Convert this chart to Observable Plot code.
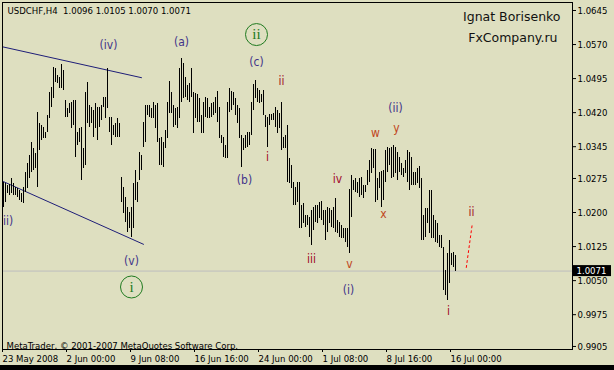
<!DOCTYPE html>
<html><head><meta charset="utf-8">
<script src="https://cdn.jsdelivr.net/npm/d3@7"></script>
<script src="https://cdn.jsdelivr.net/npm/@observablehq/plot@0.6"></script>
<style>
html,body{margin:0;padding:0;background:#000;}
#chart{width:614px;height:365px;overflow:hidden;}
</style></head><body><div id="chart"></div>
<script>
const symbol = "USDCHF,H4";
const lastOpen = 1.0096, lastClose = 1.0071;

const highs = [
1.0266,1.0264,1.0260,1.0262,1.0275,1.0264,1.0255,1.0253,1.0249,1.0242,
1.0255,1.0288,1.0308,1.0326,1.0355,1.0341,1.0330,1.0421,1.0396,1.0392,
1.0388,1.0377,1.0414,1.0465,1.0476,1.0520,1.0517,1.0502,1.0498,1.0526,
1.0513,1.0447,1.0429,1.0440,1.0443,1.0447,1.0447,1.0377,1.0385,1.0388,
1.0341,1.0465,1.0487,1.0436,1.0432,1.0425,1.0440,1.0432,1.0432,1.0436,
1.0454,1.0454,1.0517,1.0410,1.0410,1.0392,1.0396,1.0407,1.0396,1.0277,
1.0255,1.0233,1.0211,1.0200,1.0211,1.0264,1.0293,1.0266,1.0332,1.0326,
1.0399,1.0436,1.0436,1.0436,1.0429,1.0443,1.0436,1.0440,1.0363,1.0365,
1.0354,1.0381,1.0443,1.0489,1.0465,1.0436,1.0429,1.0432,1.0517,1.0539,
1.0528,1.0498,1.0480,1.0484,1.0517,1.0465,1.0462,1.0460,1.0451,1.0414,
1.0443,1.0454,1.0451,1.0432,1.0440,1.0443,1.0454,1.0467,1.0432,1.0370,
1.0365,1.0348,1.0443,1.0473,1.0467,1.0465,1.0451,1.0436,1.0429,1.0370,
1.0363,1.0370,1.0377,1.0377,1.0443,1.0482,1.0491,1.0473,1.0469,1.0460,
1.0469,1.0414,1.0410,1.0416,1.0416,1.0418,1.0432,1.0425,1.0418,1.0443,
1.0365,1.0370,1.0392,1.0319,1.0304,1.0266,1.0255,1.0266,1.0266,1.0216,
1.0220,1.0194,1.0194,1.0189,1.0205,1.0211,1.0216,1.0216,1.0222,1.0225,
1.0205,1.0205,1.0211,1.0209,1.0205,1.0211,1.0231,1.0183,1.0178,1.0172,
1.0165,1.0165,1.0165,1.0251,1.0282,1.0271,1.0275,1.0266,1.0275,1.0277,
1.0260,1.0260,1.0293,1.0315,1.0341,1.0339,1.0339,1.0275,1.0288,1.0291,
1.0293,1.0337,1.0344,1.0341,1.0344,1.0348,1.0344,1.0333,1.0322,1.0308,
1.0297,1.0315,1.0337,1.0333,1.0322,1.0288,1.0288,1.0297,1.0302,1.0275,
1.0194,1.0209,1.0209,1.0249,1.0249,1.0194,1.0183,1.0176,1.0150,1.0150,
1.0123,1.0073,1.0110,1.0139,1.0110,1.0112,1.0105
];
const lows = [
1.0211,1.0222,1.0242,1.0238,1.0242,1.0238,1.0238,1.0234,1.0227,1.0222,
1.0220,1.0244,1.0253,1.0275,1.0288,1.0293,1.0297,1.0255,1.0337,1.0359,
1.0363,1.0363,1.0377,1.0407,1.0432,1.0451,1.0487,1.0484,1.0473,1.0473,
1.0469,1.0410,1.0410,1.0418,1.0385,1.0392,1.0322,1.0348,1.0355,1.0271,
1.0297,1.0304,1.0396,1.0388,1.0396,1.0366,1.0385,1.0359,1.0388,1.0403,
1.0432,1.0407,1.0429,1.0377,1.0348,1.0370,1.0366,1.0366,1.0366,1.0222,
1.0198,1.0178,1.0156,1.0165,1.0145,1.0165,1.0227,1.0222,1.0271,1.0293,
1.0344,1.0355,1.0414,1.0410,1.0407,1.0407,1.0385,1.0355,1.0304,1.0304,
1.0299,1.0341,1.0363,1.0418,1.0418,1.0388,1.0392,1.0385,1.0407,1.0443,
1.0451,1.0454,1.0447,1.0443,1.0454,1.0374,1.0407,1.0399,1.0399,1.0374,
1.0374,1.0410,1.0407,1.0407,1.0410,1.0414,1.0418,1.0399,1.0363,1.0352,
1.0322,1.0319,1.0319,1.0421,1.0425,1.0436,1.0414,1.0396,1.0363,1.0299,
1.0337,1.0341,1.0344,1.0348,1.0370,1.0425,1.0451,1.0443,1.0440,1.0443,
1.0414,1.0388,1.0344,1.0392,1.0403,1.0403,1.0388,1.0374,1.0385,1.0337,
1.0341,1.0341,1.0267,1.0264,1.0253,1.0216,1.0216,1.0222,1.0165,1.0165,
1.0176,1.0167,1.0172,1.0145,1.0128,1.0161,1.0178,1.0176,1.0187,1.0183,
1.0172,1.0139,1.0156,1.0176,1.0167,1.0165,1.0156,1.0154,1.0145,1.0143,
1.0143,1.0134,1.0123,1.0110,1.0189,1.0249,1.0244,1.0242,1.0233,1.0238,
1.0231,1.0244,1.0260,1.0267,1.0286,1.0297,1.0222,1.0227,1.0253,1.0211,
1.0227,1.0267,1.0288,1.0304,1.0275,1.0277,1.0286,1.0271,1.0288,1.0282,
1.0277,1.0286,1.0267,1.0249,1.0260,1.0260,1.0260,1.0264,1.0253,1.0139,
1.0139,1.0145,1.0176,1.0154,1.0143,1.0143,1.0134,1.0132,1.0123,1.0121,
1.0029,1.0018,1.0007,1.0044,1.0084,1.0080,1.0070
];

const yTicks = [1.0645,1.0570,1.0495,1.0420,1.0345,1.0275,1.0200,1.0125,1.0050,0.9975,0.9905];
const xTickBars = [0,32,64,96,128,160,192,224];
const xTickLabels = ["23 May 2008","2 Jun 00:00","9 Jun 08:00","16 Jun 16:00","24 Jun 00:00","1 Jul 08:00","8 Jul 16:00","16 Jul 00:00"];

// wave labels
const waveText   = ["(ii)","(iv)","(v)","(a)","(b)","(c)","(i)","(ii)", "ii","i","iii","iv","ii","i", "v","w","x","y"];
const waveBar    = [1.25,52.5,64,89,120.5,126.5,172.5,196, 139,132,154,167,234,222.5, 173,186,190,196.5];
const wavePrice  = [1.0181,1.0568,1.0093,1.0575,1.0271,1.0531,1.0029,1.0429, 1.0489,1.0322,1.0097,1.0273,1.0201,0.9983, 1.0086,1.0374,1.0196,1.0385];
const waveDegree = ["minor","minor","minor","minor","minor","minor","minor","minor", "minute","minute","minute","minute","minute","minute", "sub","sub","sub","sub"];

const circledText  = ["i","ii"];
const circledBar   = [64,126.5];
const circledPrice = [1.0036,1.0592];

const upperLineBar = [-0.5,69];
const upperLinePrice = [1.0565,1.0497];
const lowerLineBar = [-0.5,70];
const lowerLinePrice = [1.0269,1.0130];
const projBar = [231.4,234.3];
const projPrice = [1.0079,1.0172];

const bars = highs.map((h,i)=>({k:i, high:h, low:lows[i]}));
const waves = waveText.map((t,i)=>({t, k:waveBar[i], p:wavePrice[i], deg:waveDegree[i]}));
const circled = circledText.map((t,i)=>({t, k:circledBar[i], p:circledPrice[i]}));
const pts = (ks,ps)=>ks.map((k,i)=>({k, p:ps[i]}));

const degreeColor = {minor:"#42348A", minute:"#A00A2A", sub:"#C0441A"};
const bg = "#DEDFC0";
const sans = "'DejaVu Sans Condensed','Liberation Sans',sans-serif";
const last = bars[bars.length-1];
const titleText = `${symbol}  ${lastOpen.toFixed(4)} ${last.high.toFixed(4)} ${last.low.toFixed(4)} ${lastClose.toFixed(4)}`;

const xDomain = [-0.5, 284.5];
const yDomain = [0.98983, 1.06626];
const pxPerBar = 2;                              // 570px / 285 bars
const pxPerPrice = 347 / (yDomain[1] - yDomain[0]);
const boxHalf = 5.5 / pxPerPrice;

const waveMarks = Object.keys(degreeColor).map(deg =>
  Plot.text(waves.filter(d=>d.deg===deg), {x:"k", y:"p", text:"t", fill:degreeColor[deg], fontSize:12, fontFamily:sans, clip:true})
);

const chart = Plot.plot({
  width: 614, height: 365,
  marginLeft: 2, marginRight: 42, marginTop: 2, marginBottom: 16,
  style: {background: bg, fontFamily: sans, fontSize: "9px", color: "black", overflow: "visible"},
  x: {domain: xDomain, label: null},
  y: {domain: yDomain, label: null},
  marks: [
    Plot.ruleY([lastClose], {stroke: "#BDBDBD"}),
    Plot.line(pts(upperLineBar, upperLinePrice), {x:"k", y:"p", stroke:"#1E1E78", strokeWidth:1}),
    Plot.line(pts(lowerLineBar, lowerLinePrice), {x:"k", y:"p", stroke:"#1E1E78", strokeWidth:1}),
    Plot.ruleX(bars, {x:"k", y1:"low", y2:"high", stroke:"black", strokeWidth:1, shapeRendering:"crispEdges"}),
    Plot.line(pts(projBar, projPrice), {x:"k", y:"p", stroke:"#FF0000", strokeWidth:1, strokeDasharray:"2,3"}),
    ...waveMarks,
    Plot.dot(circled, {x:"k", y:"p", r:11, stroke:"#1F7A1F", fill:"none", strokeWidth:1}),
    Plot.text(circled, {x:"k", y:"p", text:"t", fill:"#1F7A1F", fontSize:15, fontFamily:"'Liberation Serif','DejaVu Serif',serif"}),
    Plot.text([titleText], {frameAnchor:"top-left", dx:5, dy:5, fontSize:9.5, fill:"black"}),
    Plot.text(["Ignat Borisenko"], {frameAnchor:"top-right", dx:-12, dy:10, fontSize:12.5, fontFamily:"'DejaVu Sans',sans-serif", fill:"#111"}),
    Plot.text(["FxCompany.ru"], {frameAnchor:"top-right", dx:-15, dy:31, fontSize:12.5, fontFamily:"'DejaVu Sans',sans-serif", fill:"#111"}),
    Plot.text(["MetaTrader, \u00A9 2001-2007 MetaQuotes Software Corp."], {frameAnchor:"bottom-left", lineAnchor:"top", dx:4, dy:-7, fontSize:9.5, fill:"black"}),
    Plot.frame({stroke:"black"}),
    Plot.axisY({anchor:"right", ticks: yTicks, tickFormat: d=>d.toFixed(4), tickSize:3, tickPadding:2, fontSize:9.5}),
    Plot.axisX({anchor:"bottom", ticks: xTickBars, tickFormat: d=>xTickLabels[xTickBars.indexOf(d)], tickSize:3, tickPadding:3, textAnchor:"start", dx:-1, fontSize:9.5}),
    // current price marker on the price axis
    Plot.rect([lastClose], {
      x1: xDomain[1] + 1 / pxPerBar, x2: xDomain[1] + 39 / pxPerBar,
      y1: d => d - boxHalf, y2: d => d + boxHalf,
      fill: "black", clip: false
    }),
    Plot.text([lastClose], {x: xDomain[1] + 4 / pxPerBar, y: d => d, text: d => d.toFixed(4), textAnchor: "start", fill: "white", fontSize: 9.5, clip: false})
  ]
});
document.getElementById("chart").appendChild(chart);
</script></body></html>
